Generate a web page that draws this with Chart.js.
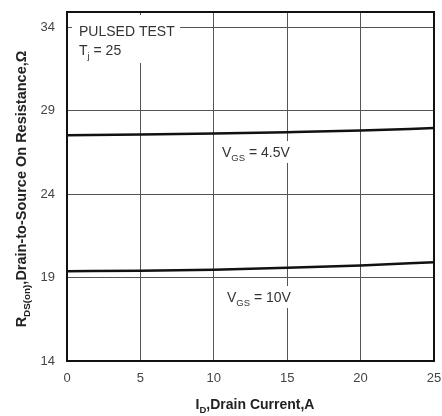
<!DOCTYPE html>
<html>
<head>
<meta charset="utf-8">
<script src="https://cdn.jsdelivr.net/npm/chart.js@4/dist/chart.umd.min.js"></script>
<style>
  html, body { margin: 0; padding: 0; background: #fff; }
  #wrap { width: 442px; height: 416px; }
</style>
</head>
<body>
<div id="wrap"><canvas id="chart" width="442" height="416"></canvas></div>
<script>
// drain current (A)
const current = [0, 5, 10, 15, 20, 25]
// on resistance (ohm)
const rdsVgs45 = [27.52, 27.56, 27.62, 27.7, 27.8, 27.95]
const rdsVgs10 = [19.38, 19.41, 19.47, 19.58, 19.72, 19.92]
const yTicks = [14, 19, 24, 29, 34]
const xTicks = [0, 5, 10, 15, 20, 25]

const FONT = '"Liberation Sans", Arial, sans-serif'

// draws text with a subscript part: parts = [[text, isSub], ...]
function drawParts(ctx, parts, x, y, size, bold, align) {
    const widths = parts.map(p => {
        ctx.font = (bold ? 'bold ' : '') + (p[1] ? size * 0.68 : size) + 'px ' + FONT
        return ctx.measureText(p[0]).width
    })
    const total = widths.reduce((a, b) => a + b, 0)
    let cx = align === 'center' ? x - total / 2 : x
    parts.forEach((p, i) => {
        ctx.font = (bold ? 'bold ' : '') + (p[1] ? size * 0.68 : size) + 'px ' + FONT
        ctx.textBaseline = 'alphabetic'
        ctx.textAlign = 'left'
        ctx.fillText(p[0], cx, p[1] ? y + size * 0.25 : y)
        cx += widths[i]
    })
    return total
}

const labelsPlugin = {
    id: 'labels',
    afterDatasetsDraw(chart) {
        const ctx = chart.ctx
        const a = chart.chartArea
        ctx.save()
        ctx.fillStyle = '#fff'
        ctx.fillRect(a.left + 5, a.top + 3, 108, 48)
        ctx.fillRect(219, 141, 80, 22)
        ctx.fillRect(224, 286, 72, 22)
        ctx.fillStyle = '#333'
        ctx.font = '14px ' + FONT
        ctx.fillText('PULSED TEST', 79, 36)
        drawParts(ctx, [['T', false], ['j', true], [' = 25', false]], 79, 55, 14, false, 'left')
        drawParts(ctx, [['V', false], ['GS', true], [' = 4.5V', false]], 222, 157, 14, false, 'left')
        drawParts(ctx, [['V', false], ['GS', true], [' = 10V', false]], 227, 302, 14, false, 'left')

        // border
        ctx.strokeStyle = '#111'
        ctx.lineWidth = 2
        ctx.strokeRect(a.left, a.top, a.right - a.left, a.bottom - a.top)

        // axis titles
        ctx.fillStyle = '#222'
        drawParts(ctx, [['I', false], ['D', true], [',Drain Current,A', false]], 255, 409, 14, true, 'center')
        ctx.translate(26, 189)
        ctx.rotate(-Math.PI / 2)
        drawParts(ctx, [['R', false], ['DS(on)', true], [',Drain-to-Source On Resistance,Ω', false]], 0, 0, 14.5, true, 'center')
        ctx.restore()
    }
}

const ctx = document.querySelector('#chart').getContext('2d')

new Chart(ctx, {
    type: 'line',
    data: {
        datasets: [
            {
                label: 'VGS = 4.5V',
                data: current.map((x, i) => ({ x: x, y: rdsVgs45[i] })),
                borderColor: '#111',
                borderWidth: 2.5,
                pointRadius: 0,
                cubicInterpolationMode: 'monotone'
            },
            {
                label: 'VGS = 10V',
                data: current.map((x, i) => ({ x: x, y: rdsVgs10[i] })),
                borderColor: '#111',
                borderWidth: 2.5,
                pointRadius: 0,
                cubicInterpolationMode: 'monotone'
            }
        ]
    },
    options: {
        responsive: false,
        animation: false,
        layout: { padding: { top: 12, right: 8, left: 0, bottom: 0 } },
        plugins: {
            legend: { display: false },
            tooltip: { enabled: false }
        },
        scales: {
            x: {
                type: 'linear',
                min: 0,
                max: 25,
                afterBuildTicks: s => { s.ticks = xTicks.map(v => ({ value: v })) },
                afterFit: s => { s.height = 55; s.paddingLeft = 0; s.paddingRight = 0 },
                grid: { color: '#555', lineWidth: 1, drawTicks: false },
                border: { display: false },
                ticks: { color: '#444', font: { family: FONT, size: 13 }, padding: 10 }
            },
            y: {
                min: 14,
                max: 34.9,
                afterBuildTicks: s => { s.ticks = yTicks.map(v => ({ value: v })) },
                afterFit: s => { s.width = 67; s.paddingTop = 0; s.paddingBottom = 0 },
                grid: { color: '#555', lineWidth: 1, drawTicks: false },
                border: { display: false },
                ticks: { color: '#444', font: { family: FONT, size: 13 }, padding: 12 }
            }
        }
    },
    plugins: [labelsPlugin]
})
</script>
</body>
</html>
